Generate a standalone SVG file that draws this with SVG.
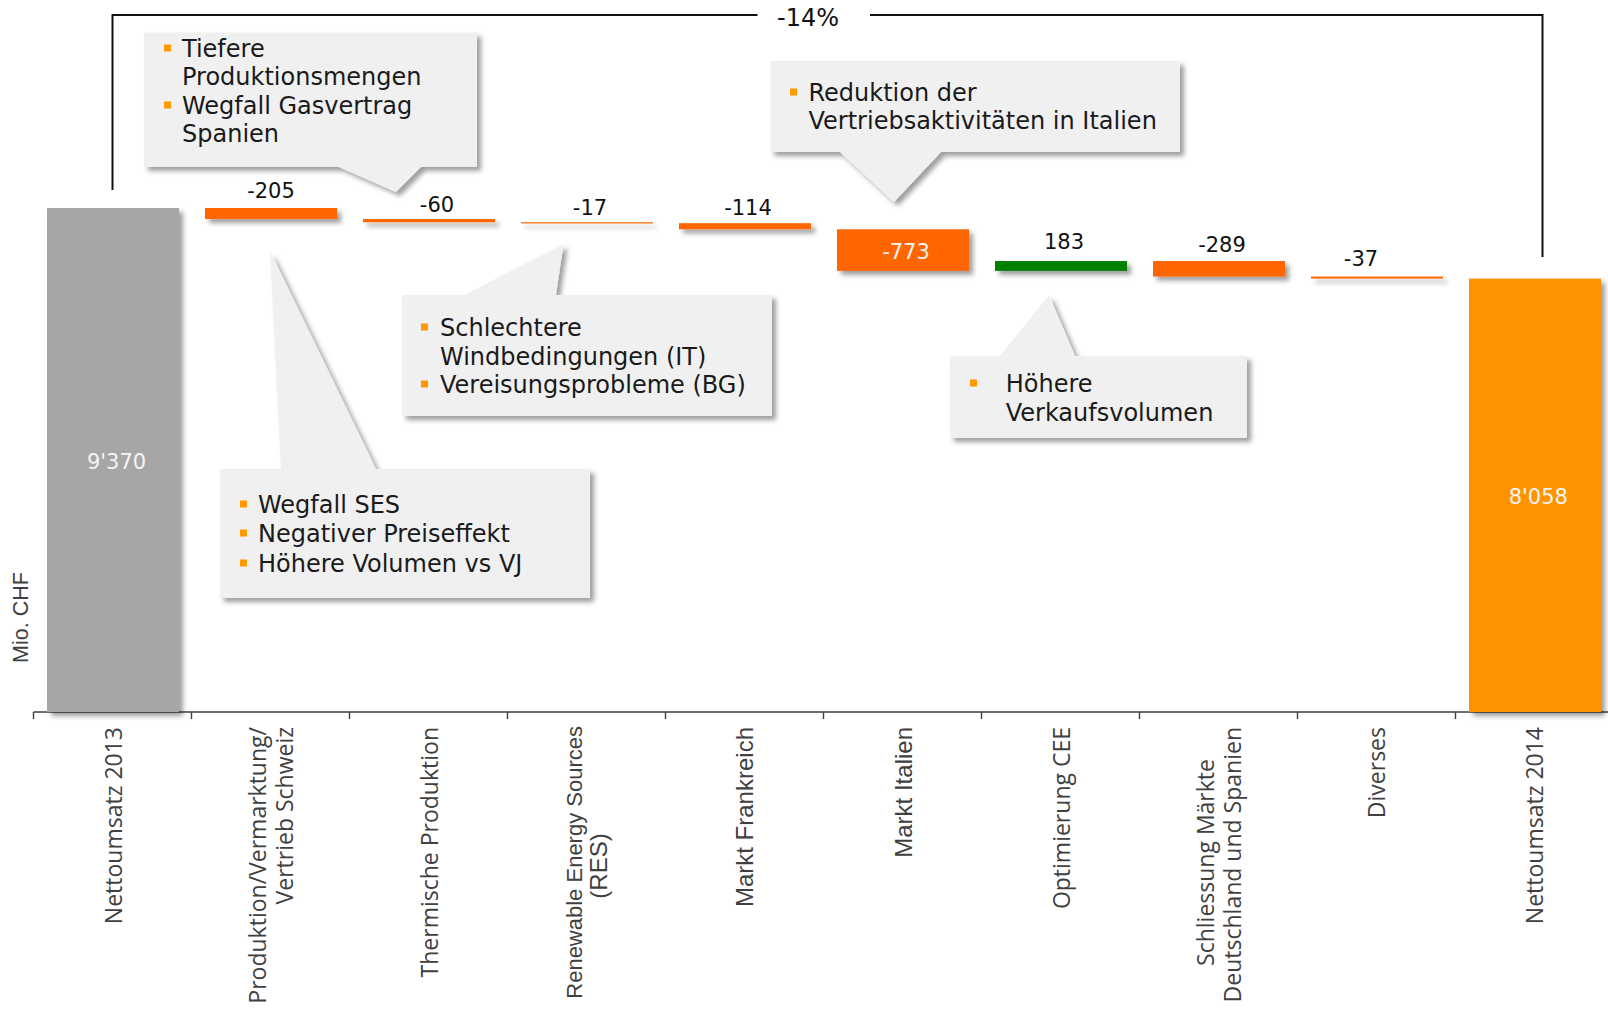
<svg xmlns="http://www.w3.org/2000/svg" width="1608" height="1017" viewBox="0 0 1608 1017">
  <defs>
    <filter id="sh" filterUnits="userSpaceOnUse" x="0" y="0" width="1608" height="1017">
      <feDropShadow dx="4" dy="4" stdDeviation="2.5" flood-color="#000" flood-opacity="0.38"/>
    </filter>
    <style>
      .callout { fill: #F0F0F0; filter: url(#sh); }
      .ct { font-family: "DejaVu Sans", Verdana, sans-serif; font-size: 24px; fill: #1a1a1a; }
      .bul { fill: #FF9900; }
      .num { font-family: "DejaVu Sans", Verdana, sans-serif; font-size: 21px; fill: #111; text-anchor: middle; }
      .numw { font-family: "DejaVu Sans", Verdana, sans-serif; font-size: 21px; fill: #F4F4F4; text-anchor: middle; }
      .bar { filter: url(#sh); }
      .neg { fill: #FF6600; }
      .pos { fill: #008000; }
      .axl { font-family: "Open Sans", "DejaVu Sans", sans-serif; font-size: 23px; fill: #404040; }
      .axa { font-family: "Liberation Sans", Arial, sans-serif; font-size: 24px; fill: #404040; }
      .conn { fill: none; stroke: #111; stroke-width: 2; }
      .axis { fill: none; stroke: #404040; stroke-width: 1.4; }
    </style>
  </defs>
  <rect width="1608" height="1017" fill="#FFFFFF"/>

  <g id="connectors">
    <polyline class="conn" points="112.5,190 112.5,15 757.5,15"/>
    <polyline class="conn" points="870,15 1542.5,15 1542.5,257"/>
    <text x="808" y="26" font-family="DejaVu Sans, Verdana, sans-serif" font-size="24" fill="#111" text-anchor="middle">-14%</text>
  </g>

  <g id="axis">
    <line class="axis" x1="33.5" y1="712" x2="1608" y2="712"/>
    <path class="axis" d="M33.5,712V719M191.5,712V719M349.5,712V719M507.5,712V719M665.5,712V719M823.5,712V719M981.5,712V719M1139.5,712V719M1297.5,712V719M1455.5,712V719"/>
    <text class="axa" transform="translate(28,617.5) rotate(-90)" text-anchor="middle" style="font-size:21.5px">Mio. CHF</text>
  </g>

  <g id="bar-nettoumsatz-2013">
    <rect class="bar" x="47" y="208" width="132" height="504" fill="#A6A6A6"/>
    <text class="numw" x="116.5" y="469">9'370</text>
  </g>
  <g id="bar-produktion">
    <rect class="bar neg" x="205" y="208" width="132" height="11.03"/>
    <text class="num" x="271" y="198">-205</text>
  </g>
  <g id="bar-thermische">
    <rect class="bar neg" x="363" y="219.03" width="132" height="3.23"/>
    <text class="num" x="437" y="212">-60</text>
  </g>
  <g id="bar-res">
    <rect class="bar neg" x="521" y="222.26" width="132" height="1.2"/>
    <text class="num" x="590" y="215">-17</text>
  </g>
  <g id="bar-frankreich">
    <rect class="bar neg" x="679" y="223.17" width="132" height="6.13"/>
    <text class="num" x="748" y="215">-114</text>
  </g>
  <g id="bar-italien">
    <rect class="bar neg" x="837" y="229.3" width="132" height="41.58"/>
    <text class="numw" x="906" y="259">-773</text>
  </g>
  <g id="bar-cee">
    <rect class="bar pos" x="995" y="261.04" width="132" height="9.84"/>
    <text class="num" x="1064" y="249">183</text>
  </g>
  <g id="bar-schliessung">
    <rect class="bar neg" x="1153" y="261.04" width="132" height="15.54"/>
    <text class="num" x="1222" y="252">-289</text>
  </g>
  <g id="bar-diverses">
    <rect class="bar neg" x="1311" y="276.58" width="132" height="1.99"/>
    <text class="num" x="1361" y="266">-37</text>
  </g>
  <g id="bar-nettoumsatz-2014">
    <rect class="bar" x="1469" y="278.57" width="132" height="433.43" fill="#FF9400"/>
    <text class="numw" x="1538.3" y="504">8'058</text>
  </g>

  <g id="callout-produktion">
    <path class="callout" d="M144,32.5H477V167H421L396,192L339,167H144Z"/>
    <rect class="bul" x="164" y="44.5" width="7" height="7"/>
    <rect class="bul" x="164" y="101.5" width="7" height="7"/>
    <text class="ct" x="182" y="57">Tiefere</text>
    <text class="ct" x="182" y="85">Produktionsmengen</text>
    <text class="ct" x="182" y="114">Wegfall Gasvertrag</text>
    <text class="ct" x="182" y="142">Spanien</text>
  </g>

  <g id="callout-italien">
    <path class="callout" d="M770.5,61H1180V152H941L894,202L840,152H770.5Z"/>
    <rect class="bul" x="790" y="88.5" width="7" height="7"/>
    <text class="ct" x="808.5" y="101">Reduktion der</text>
    <text class="ct" x="808.5" y="129">Vertriebsaktivitäten in Italien</text>
  </g>

  <g id="callout-res">
    <path class="callout" d="M402,295H464L563.5,244L556,295H772V416H402Z"/>
    <rect class="bul" x="421" y="323.5" width="7" height="7"/>
    <rect class="bul" x="421" y="380.5" width="7" height="7"/>
    <text class="ct" x="440" y="336">Schlechtere</text>
    <text class="ct" x="440" y="365">Windbedingungen (IT)</text>
    <text class="ct" x="440" y="393">Vereisungsprobleme (BG)</text>
  </g>

  <g id="callout-ses">
    <path class="callout" d="M220,469H281L270,251L376,469H590V598H220Z"/>
    <rect class="bul" x="240" y="500.5" width="7" height="7"/>
    <rect class="bul" x="240" y="529.5" width="7" height="7"/>
    <rect class="bul" x="240" y="559.5" width="7" height="7"/>
    <text class="ct" x="258" y="513">Wegfall SES</text>
    <text class="ct" x="258" y="542">Negativer Preiseffekt</text>
    <text class="ct" x="258" y="572">Höhere Volumen vs VJ</text>
  </g>

  <g id="callout-cee">
    <path class="callout" d="M950,356H1000L1049,295L1075,356H1247V438H950Z"/>
    <rect class="bul" x="970" y="379.5" width="7" height="7"/>
    <text class="ct" x="1005.7" y="391.7">Höhere</text>
    <text class="ct" x="1005.7" y="420.7">Verkaufsvolumen</text>
  </g>

  <g id="axis-labels">
    <text class="axl" transform="translate(121.5,727) rotate(-90)" text-anchor="end">Nettoumsatz 2013</text>
    <text class="axl" transform="translate(265.7,727) rotate(-90)" text-anchor="end">Produktion/Vermarktung/</text>
    <text class="axl" transform="translate(293.3,727) rotate(-90)" text-anchor="end">Vertrieb Schweiz</text>
    <text class="axl" transform="translate(437.5,727) rotate(-90)" text-anchor="end">Thermische Produktion</text>
    <text class="axa" transform="translate(581.7,726) rotate(-90)" text-anchor="end" style="font-size:22px">Renewable Energy Sources</text>
    <text class="axa" transform="translate(607,866) rotate(-90)" text-anchor="middle">(RES)</text>
    <text class="axa" transform="translate(753.3,727) rotate(-90)" text-anchor="end">Markt Frankreich</text>
    <text class="axa" transform="translate(911.5,727) rotate(-90)" text-anchor="end">Markt Italien</text>
    <text class="axl" transform="translate(1070,727) rotate(-90)" text-anchor="end">Optimierung CEE</text>
    <text class="axl" transform="translate(1214,862.5) rotate(-90)" text-anchor="middle">Schliessung Märkte</text>
    <text class="axl" transform="translate(1241,727) rotate(-90)" text-anchor="end">Deutschland und Spanien</text>
    <text class="axl" transform="translate(1385,727) rotate(-90)" text-anchor="end">Diverses</text>
    <text class="axl" transform="translate(1543.3,727) rotate(-90)" text-anchor="end">Nettoumsatz 2014</text>
  </g>
</svg>
